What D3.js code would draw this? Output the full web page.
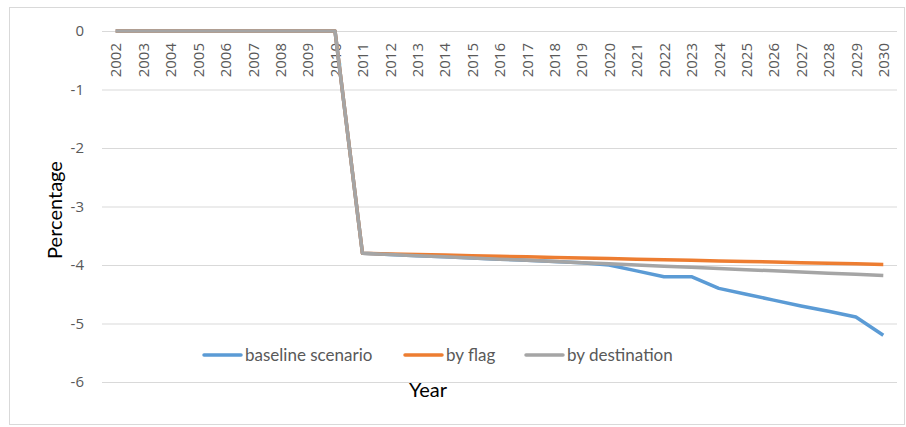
<!DOCTYPE html>
<html>
<head>
<meta charset="utf-8">
<script src="https://cdn.jsdelivr.net/npm/d3@7"></script>
<style>
  body { margin: 0; background: #fff; }
  svg text { fill: #595959; }
</style>
</head>
<body>
<div id="chart"></div>
<script>
// data
var years = ["2002","2003","2004","2005","2006","2007","2008","2009","2010","2011",
  "2012","2013","2014","2015","2016","2017","2018","2019","2020","2021",
  "2022","2023","2024","2025","2026","2027","2028","2029","2030"];

var baseline = [0,0,0,0,0,0,0,0,0,-3.80,
  -3.82,-3.84,-3.86,-3.88,-3.90,-3.92,-3.94,-3.96,-4.00,-4.10,
  -4.20,-4.20,-4.40,-4.50,-4.60,-4.70,-4.79,-4.89,-5.20];

var byFlag = [0,0,0,0,0,0,0,0,0,-3.80,
  -3.81,-3.82,-3.83,-3.84,-3.85,-3.86,-3.87,-3.88,-3.89,-3.90,
  -3.91,-3.92,-3.93,-3.94,-3.95,-3.96,-3.97,-3.98,-3.99];

var byDestination = [0,0,0,0,0,0,0,0,0,-3.80,
  -3.82,-3.84,-3.86,-3.88,-3.90,-3.92,-3.94,-3.96,-3.98,-4.00,
  -4.02,-4.04,-4.06,-4.08,-4.10,-4.12,-4.14,-4.16,-4.18];

var yTicks = [0, -1, -2, -3, -4, -5, -6];

var seriesNames = ["baseline scenario", "by flag", "by destination"];
var seriesColors = ["#5B9BD5", "#ED7D31", "#A5A5A5"];

var series = [baseline, byFlag, byDestination];

var W = 906, H = 427;

var svg = d3.select("#chart")
  .append("svg")
  .attr("width", W)
  .attr("height", H);

// chart border
svg.append("rect")
  .attr("x", 9.5)
  .attr("y", 7.5)
  .attr("width", 895)
  .attr("height", 417)
  .attr("fill", "none")
  .attr("stroke", "#d9d9d9");

var x = d3.scalePoint()
  .domain(years)
  .range([102, 897])
  .padding(0.5);

var y = d3.scaleLinear()
  .domain([-6, 0])
  .range([382, 31]);

// y axis + gridlines
var yAxis = svg.append("g")
  .attr("transform", "translate(102,0)")
  .call(d3.axisLeft(y)
    .tickValues(yTicks)
    .tickSize(-(897 - 102))
    .tickPadding(18)
    .tickFormat(function(d) { return String(d); }));

yAxis.select(".domain").remove();
yAxis.selectAll("line").attr("stroke", "#d9d9d9").attr("stroke-width", 1);
yAxis.selectAll("text")
  .style("font-family", "'Open Sans', sans-serif")
  .style("font-size", "15px")
  .attr("fill", "#595959");

// x axis labels sit just below the zero line
var xAxis = svg.append("g")
  .attr("transform", "translate(0," + y(0) + ")")
  .call(d3.axisBottom(x).tickSize(0));

xAxis.select(".domain").remove();
xAxis.selectAll("text")
  .style("font-family", "'Open Sans', sans-serif")
  .style("font-size", "15px")
  .attr("fill", "#595959")
  .style("text-anchor", "end")
  .attr("transform", "rotate(-90)")
  .attr("x", -12)
  .attr("y", 0)
  .attr("dy", "0.35em");

// lines
var line = d3.line()
  .x(function(d, i) { return x(years[i]); })
  .y(function(d) { return y(d); });

series.forEach(function(s, i) {
  svg.append("path")
    .datum(s)
    .attr("fill", "none")
    .attr("stroke", seriesColors[i])
    .attr("stroke-width", 3.5)
    .attr("stroke-linejoin", "round")
    .attr("d", line);
});

// legend
var legendX = [204, 405, 526];
var legend = svg.selectAll(".legend")
  .data(seriesNames)
  .enter()
  .append("g")
  .attr("class", "legend")
  .attr("transform", function(d, i) { return "translate(" + legendX[i] + ",355)"; });

legend.append("line")
  .attr("x1", 0)
  .attr("x2", 37)
  .attr("stroke", function(d, i) { return seriesColors[i]; })
  .attr("stroke-width", 3.5)
  .attr("stroke-linecap", "round");

legend.append("text")
  .attr("x", 41)
  .attr("dy", "0.35em")
  .style("font-family", "Lato, sans-serif")
  .style("font-size", "17px")
  .text(function(d) { return d; });

// axis titles
svg.append("text")
  .attr("transform", "translate(62,210) rotate(-90)")
  .style("text-anchor", "middle")
  .style("font-family", "Lato, sans-serif")
  .style("font-size", "20px")
  .style("fill", "#000")
  .text("Percentage");

svg.append("text")
  .attr("x", 428)
  .attr("y", 397)
  .style("text-anchor", "middle")
  .style("font-family", "Lato, sans-serif")
  .style("font-size", "20px")
  .style("fill", "#000")
  .text("Year");
</script>
</body>
</html>
